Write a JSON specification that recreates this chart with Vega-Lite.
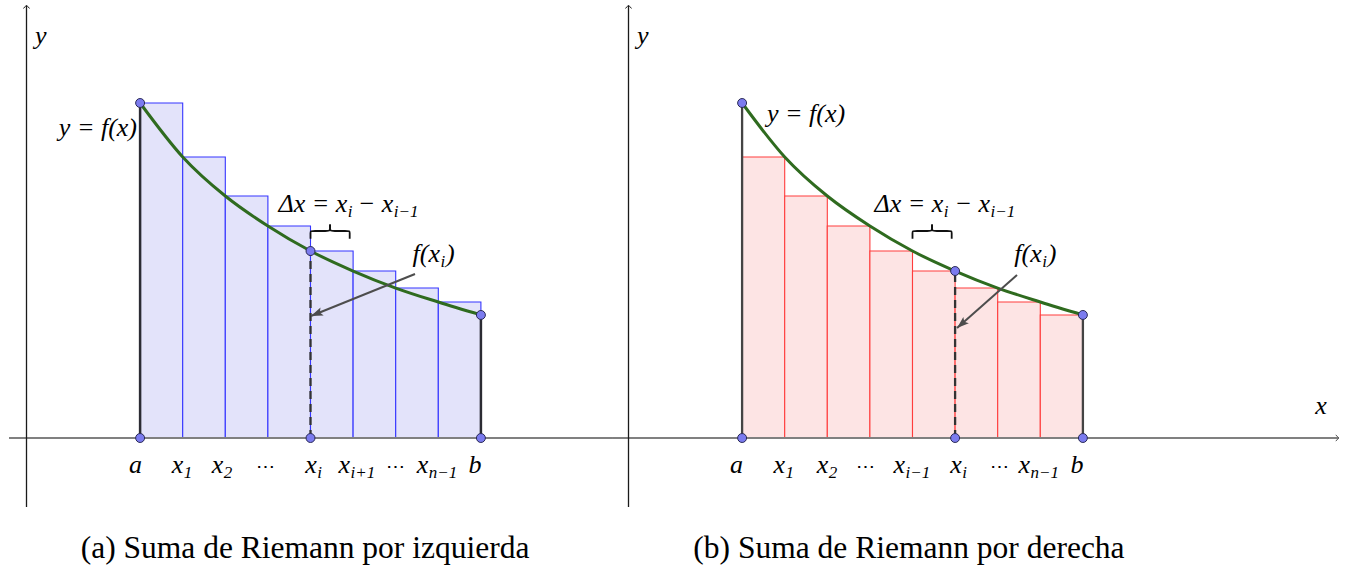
{
  "$schema": "https://vega.github.io/schema/vega-lite/v6.json",
  "padding": 0,
  "spacing": 0,
  "bounds": "flush",
  "background": "white",
  "config": {"view": {"stroke": null}, "font": "Liberation Serif", "text": {"font": "Liberation Serif", "color": "#000000", "baseline": "alphabetic"}},
  "datasets": {
    "curve": [
      {"x": 1, "y": 2.949}, {"x": 1.375, "y": 2.474}, {"x": 1.75, "y": 2.13}, {"x": 2.125, "y": 1.866},
      {"x": 2.5, "y": 1.646}, {"x": 2.875, "y": 1.47}, {"x": 3.25, "y": 1.32}, {"x": 3.625, "y": 1.197}, {"x": 4, "y": 1.083}
    ],
    "lb": [
      {"x": 1, "x2": 1.375, "y": 2.949}, {"x": 1.375, "x2": 1.75, "y": 2.474}, {"x": 1.75, "x2": 2.125, "y": 2.13},
      {"x": 2.125, "x2": 2.5, "y": 1.866}, {"x": 2.5, "x2": 2.875, "y": 1.646}, {"x": 2.875, "x2": 3.25, "y": 1.47},
      {"x": 3.25, "x2": 3.625, "y": 1.32}, {"x": 3.625, "x2": 4, "y": 1.197}
    ],
    "rb": [
      {"x": 1, "x2": 1.375, "y": 2.474}, {"x": 1.375, "x2": 1.75, "y": 2.13}, {"x": 1.75, "x2": 2.125, "y": 1.866},
      {"x": 2.125, "x2": 2.5, "y": 1.646}, {"x": 2.5, "x2": 2.875, "y": 1.47}, {"x": 2.875, "x2": 3.25, "y": 1.32},
      {"x": 3.25, "x2": 3.625, "y": 1.197}, {"x": 3.625, "x2": 4, "y": 1.083}
    ],
    "yaxis": [{"x": 0, "y": -0.607, "y2": 3.803}],
    "ytip": [{"x": 0, "y": 3.81}],
    "xaxisL": [{"x": -0.154, "x2": 5.154, "y": 0}],
    "xaxisR": [{"x": -0.145, "x2": 6.25, "y": 0}],
    "xtip": [{"x": 6.254, "y": 0}],
    "ends": [{"x": 1, "y": 0, "y2": 2.949}, {"x": 4, "y": 0, "y2": 1.083}],
    "dashL": [{"x": 2.5, "y": 0, "y2": 1.646}],
    "dashR": [{"x": 2.875, "y": 0, "y2": 1.47}],
    "ptsL": [{"x": 1, "y": 2.949}, {"x": 4, "y": 1.083}, {"x": 2.5, "y": 1.646}, {"x": 1, "y": 0}, {"x": 2.5, "y": 0}, {"x": 4, "y": 0}],
    "ptsR": [{"x": 1, "y": 2.949}, {"x": 4, "y": 1.083}, {"x": 2.875, "y": 1.47}, {"x": 1, "y": 0}, {"x": 2.875, "y": 0}, {"x": 4, "y": 0}],
    "arrL": [{"x": 3.42, "y": 1.444, "x2": 2.504, "y2": 1.074}],
    "arrR": [{"x": 3.42, "y": 1.435, "x2": 2.892, "y2": 0.968}],
    "headL": [{"x": 2.504, "y": 1.074}],
    "headR": [{"x": 2.892, "y": 0.968}],
    "brace": [
      {"part": "L", "ord": 1, "x": 2.5, "y": 1.755}, {"part": "L", "ord": 2, "x": 2.5, "y": 1.81},
      {"part": "L", "ord": 3, "x": 2.5, "y": 1.822}, {"part": "L", "ord": 4, "x": 2.525, "y": 1.822},
      {"part": "L", "ord": 5, "x": 2.645, "y": 1.822}, {"part": "L", "ord": 6, "x": 2.672, "y": 1.822},
      {"part": "L", "ord": 7, "x": 2.672, "y": 1.85}, {"part": "L", "ord": 8, "x": 2.672, "y": 1.88},
      {"part": "R", "ord": 1, "x": 2.672, "y": 1.88}, {"part": "R", "ord": 2, "x": 2.672, "y": 1.85},
      {"part": "R", "ord": 3, "x": 2.672, "y": 1.822}, {"part": "R", "ord": 4, "x": 2.699, "y": 1.822},
      {"part": "R", "ord": 5, "x": 2.82, "y": 1.822}, {"part": "R", "ord": 6, "x": 2.845, "y": 1.822},
      {"part": "R", "ord": 7, "x": 2.845, "y": 1.81}, {"part": "R", "ord": 8, "x": 2.845, "y": 1.755}
    ],
    "plainL": [
      {"x": 0.96, "y": -0.308, "t": "a"}, {"x": 3.948, "y": -0.308, "t": "b"}
    ],
    "dotsL": [{"x": 2.104, "y": -0.308, "t": "⋯"}, {"x": 3.248, "y": -0.308, "t": "⋯"}],
    "plainR": [
      {"x": 0.95, "y": -0.308, "t": "a"}, {"x": 3.948, "y": -0.308, "t": "b"}, {"x": 6.096, "y": 0.211, "t": "x"}
    ],
    "dotsR": [{"x": 2.09, "y": -0.308, "t": "⋯"}, {"x": 3.27, "y": -0.308, "t": "⋯"}],
    "baseL": [
      {"x": 1.38, "y": -0.308, "t": "x"}, {"x": 1.732, "y": -0.308, "t": "x"}, {"x": 2.555, "y": -0.308, "t": "x"},
      {"x": 2.848, "y": -0.308, "t": "x"}, {"x": 3.536, "y": -0.308, "t": "x"},
      {"x": 2.824, "y": 1.989, "t": "Δx = x"}, {"x": 3.229, "y": 1.989, "t": "− x"}, {"x": 3.64, "y": 1.549, "t": "f(x"}
    ],
    "subL": [
      {"x": 1.38, "y": -0.308, "t": "1"}, {"x": 1.732, "y": -0.308, "t": "2"}, {"x": 2.555, "y": -0.308, "t": "i"},
      {"x": 2.848, "y": -0.308, "t": "i+1"}, {"x": 3.536, "y": -0.308, "t": "n−1"},
      {"x": 2.824, "y": 1.989, "t": "i"}, {"x": 3.229, "y": 1.989, "t": "i−1"}, {"x": 3.64, "y": 1.549, "t": "i"}
    ],
    "closeL": [{"x": 3.693, "y": 1.549, "t": ")"}],
    "baseR": [
      {"x": 1.378, "y": -0.308, "t": "x"}, {"x": 1.758, "y": -0.308, "t": "x"}, {"x": 2.434, "y": -0.308, "t": "x"},
      {"x": 2.933, "y": -0.308, "t": "x"}, {"x": 3.535, "y": -0.308, "t": "x"},
      {"x": 2.771, "y": 1.989, "t": "Δx = x"}, {"x": 3.182, "y": 1.989, "t": "− x"}, {"x": 3.637, "y": 1.549, "t": "f(x"}
    ],
    "subR": [
      {"x": 1.378, "y": -0.308, "t": "1"}, {"x": 1.758, "y": -0.308, "t": "2"}, {"x": 2.434, "y": -0.308, "t": "i−1"},
      {"x": 2.933, "y": -0.308, "t": "i"}, {"x": 3.535, "y": -0.308, "t": "n−1"},
      {"x": 2.771, "y": 1.989, "t": "i"}, {"x": 3.182, "y": 1.989, "t": "i−1"}, {"x": 3.637, "y": 1.549, "t": "i"}
    ],
    "closeR": [{"x": 3.69, "y": 1.549, "t": ")"}],
    "ylab": [{"x": 0.075, "y": 3.468, "t": "y"}],
    "fxL": [{"x": 0.973, "y": 2.658, "t": "y = f(x)"}],
    "fxR": [{"x": 1.219, "y": 2.782, "t": "y = f(x)"}],
    "capL": [{"x": 2.452, "y": -1.056, "t": "(a) Suma de Riemann por izquierda"}],
    "capR": [{"x": 2.469, "y": -1.056, "t": "(b) Suma de Riemann por derecha"}]
  },
  "hconcat": [
    {
      "width": 612,
      "height": 572,
      "encoding": {
        "x": {"field": "x", "type": "quantitative", "scale": {"domain": [-0.2333, 5.154], "nice": false, "zero": false}, "axis": null},
        "y": {"field": "y", "type": "quantitative", "scale": {"domain": [-1.17958, 3.85563], "nice": false, "zero": false}, "axis": null}
      },
      "layer": [
        {"data": {"name": "lb"}, "mark": {"type": "rect", "fill": "#e3e3fa", "stroke": "#3535ff", "strokeWidth": 1.1},
         "encoding": {"x2": {"field": "x2"}, "y2": {"datum": 0}}},
        {"data": {"name": "xaxisL"}, "mark": {"type": "rule", "color": "#808080", "strokeWidth": 2},
         "encoding": {"x2": {"field": "x2"}}},
        {"data": {"name": "yaxis"}, "mark": {"type": "rule", "color": "#1a1a1a", "strokeWidth": 1.3},
         "encoding": {"y2": {"field": "y2"}}},
        {"data": {"name": "ytip"}, "mark": {"type": "point", "shape": "M-1,-1Q-0.3,-0.15,0,0Q-0.3,0.15,-1,1", "angle": 270, "filled": false, "size": 40, "stroke": "#1a1a1a", "strokeWidth": 1, "opacity": 1}},
        {"data": {"name": "ends"}, "mark": {"type": "rule", "color": "#2b2b33", "strokeWidth": 2.5},
         "encoding": {"y2": {"field": "y2"}}},
        {"data": {"name": "dashL"}, "mark": {"type": "rule", "color": "#333333", "strokeWidth": 2.3, "strokeDash": [8, 5]},
         "encoding": {"y2": {"field": "y2"}}},
        {"data": {"name": "curve"}, "mark": {"type": "line", "color": "#2f6b1f", "strokeWidth": 3, "interpolate": "monotone"}},
        {"data": {"name": "arrL"}, "mark": {"type": "rule", "color": "#4d4d4d", "strokeWidth": 2},
         "encoding": {"x2": {"field": "x2"}, "y2": {"field": "y2"}}},
        {"data": {"name": "headL"}, "mark": {"type": "point", "shape": "M0,0L-2,-0.7L-1.6,0L-2,0.7Z", "angle": 158, "filled": true, "size": 144, "color": "#4d4d4d", "opacity": 1}},
        {"data": {"name": "brace"}, "mark": {"type": "line", "color": "#111111", "strokeWidth": 1.8, "interpolate": "basis"},
         "encoding": {"detail": {"field": "part"}, "order": {"field": "ord"}}},
        {"data": {"name": "ptsL"}, "mark": {"type": "point", "shape": "circle", "filled": true, "size": 80, "fill": "#7b7bef", "stroke": "#2a2a55", "strokeWidth": 1, "opacity": 1}},
        {"data": {"name": "plainL"}, "mark": {"type": "text", "fontStyle": "italic", "fontSize": 26, "align": "center"},
         "encoding": {"text": {"field": "t"}}},
        {"data": {"name": "dotsL"}, "mark": {"type": "text", "fontSize": 19, "align": "center"},
         "encoding": {"text": {"field": "t"}}},
        {"data": {"name": "baseL"}, "mark": {"type": "text", "fontStyle": "italic", "fontSize": 26, "align": "right"},
         "encoding": {"text": {"field": "t"}}},
        {"data": {"name": "subL"}, "mark": {"type": "text", "fontStyle": "italic", "fontSize": 17, "align": "left", "dy": 5, "dx": 0.5},
         "encoding": {"text": {"field": "t"}}},
        {"data": {"name": "closeL"}, "mark": {"type": "text", "fontStyle": "italic", "fontSize": 26, "align": "left"},
         "encoding": {"text": {"field": "t"}}},
        {"data": {"name": "ylab"}, "mark": {"type": "text", "fontStyle": "italic", "fontSize": 26, "align": "left"},
         "encoding": {"text": {"field": "t"}}},
        {"data": {"name": "fxL"}, "mark": {"type": "text", "fontStyle": "italic", "fontSize": 26, "align": "right"},
         "encoding": {"text": {"field": "t"}}},
        {"data": {"name": "capL"}, "mark": {"type": "text", "fontSize": 31.5, "align": "center"},
         "encoding": {"text": {"field": "t"}}}
      ]
    },
    {
      "width": 736,
      "height": 572,
      "encoding": {
        "x": {"field": "x", "type": "quantitative", "scale": {"domain": [-0.14525, 6.3336], "nice": false, "zero": false}, "axis": null},
        "y": {"field": "y", "type": "quantitative", "scale": {"domain": [-1.17958, 3.85563], "nice": false, "zero": false}, "axis": null}
      },
      "layer": [
        {"data": {"name": "rb"}, "mark": {"type": "rect", "fill": "#fde4e4", "stroke": "#ff3c3c", "strokeWidth": 1.1},
         "encoding": {"x2": {"field": "x2"}, "y2": {"datum": 0}}},
        {"data": {"name": "xaxisR"}, "mark": {"type": "rule", "color": "#808080", "strokeWidth": 2},
         "encoding": {"x2": {"field": "x2"}}},
        {"data": {"name": "xtip"}, "mark": {"type": "point", "shape": "M-1,-1Q-0.3,-0.15,0,0Q-0.3,0.15,-1,1", "angle": 0, "filled": false, "size": 40, "stroke": "#555555", "strokeWidth": 1, "opacity": 1}},
        {"data": {"name": "yaxis"}, "mark": {"type": "rule", "color": "#1a1a1a", "strokeWidth": 1.3},
         "encoding": {"y2": {"field": "y2"}}},
        {"data": {"name": "ytip"}, "mark": {"type": "point", "shape": "M-1,-1Q-0.3,-0.15,0,0Q-0.3,0.15,-1,1", "angle": 270, "filled": false, "size": 40, "stroke": "#1a1a1a", "strokeWidth": 1, "opacity": 1}},
        {"data": {"name": "ends"}, "mark": {"type": "rule", "color": "#444444", "strokeWidth": 2.3},
         "encoding": {"y2": {"field": "y2"}}},
        {"data": {"name": "dashR"}, "mark": {"type": "rule", "color": "#333333", "strokeWidth": 2.3, "strokeDash": [8, 5]},
         "encoding": {"y2": {"field": "y2"}}},
        {"data": {"name": "curve"}, "mark": {"type": "line", "color": "#2f6b1f", "strokeWidth": 3, "interpolate": "monotone"}},
        {"data": {"name": "arrR"}, "mark": {"type": "rule", "color": "#4d4d4d", "strokeWidth": 2},
         "encoding": {"x2": {"field": "x2"}, "y2": {"field": "y2"}}},
        {"data": {"name": "headR"}, "mark": {"type": "point", "shape": "M0,0L-2,-0.7L-1.6,0L-2,0.7Z", "angle": 139, "filled": true, "size": 144, "color": "#4d4d4d", "opacity": 1}},
        {"data": {"name": "brace"}, "mark": {"type": "line", "color": "#111111", "strokeWidth": 1.8, "interpolate": "basis"},
         "encoding": {"detail": {"field": "part"}, "order": {"field": "ord"}}},
        {"data": {"name": "ptsR"}, "mark": {"type": "point", "shape": "circle", "filled": true, "size": 80, "fill": "#7b7bef", "stroke": "#2a2a55", "strokeWidth": 1, "opacity": 1}},
        {"data": {"name": "plainR"}, "mark": {"type": "text", "fontStyle": "italic", "fontSize": 26, "align": "center"},
         "encoding": {"text": {"field": "t"}}},
        {"data": {"name": "dotsR"}, "mark": {"type": "text", "fontSize": 19, "align": "center"},
         "encoding": {"text": {"field": "t"}}},
        {"data": {"name": "baseR"}, "mark": {"type": "text", "fontStyle": "italic", "fontSize": 26, "align": "right"},
         "encoding": {"text": {"field": "t"}}},
        {"data": {"name": "subR"}, "mark": {"type": "text", "fontStyle": "italic", "fontSize": 17, "align": "left", "dy": 5, "dx": 0.5},
         "encoding": {"text": {"field": "t"}}},
        {"data": {"name": "closeR"}, "mark": {"type": "text", "fontStyle": "italic", "fontSize": 26, "align": "left"},
         "encoding": {"text": {"field": "t"}}},
        {"data": {"name": "ylab"}, "mark": {"type": "text", "fontStyle": "italic", "fontSize": 26, "align": "left"},
         "encoding": {"text": {"field": "t"}}},
        {"data": {"name": "fxR"}, "mark": {"type": "text", "fontStyle": "italic", "fontSize": 26, "align": "left"},
         "encoding": {"text": {"field": "t"}}},
        {"data": {"name": "capR"}, "mark": {"type": "text", "fontSize": 31.5, "align": "center"},
         "encoding": {"text": {"field": "t"}}}
      ]
    }
  ]
}
